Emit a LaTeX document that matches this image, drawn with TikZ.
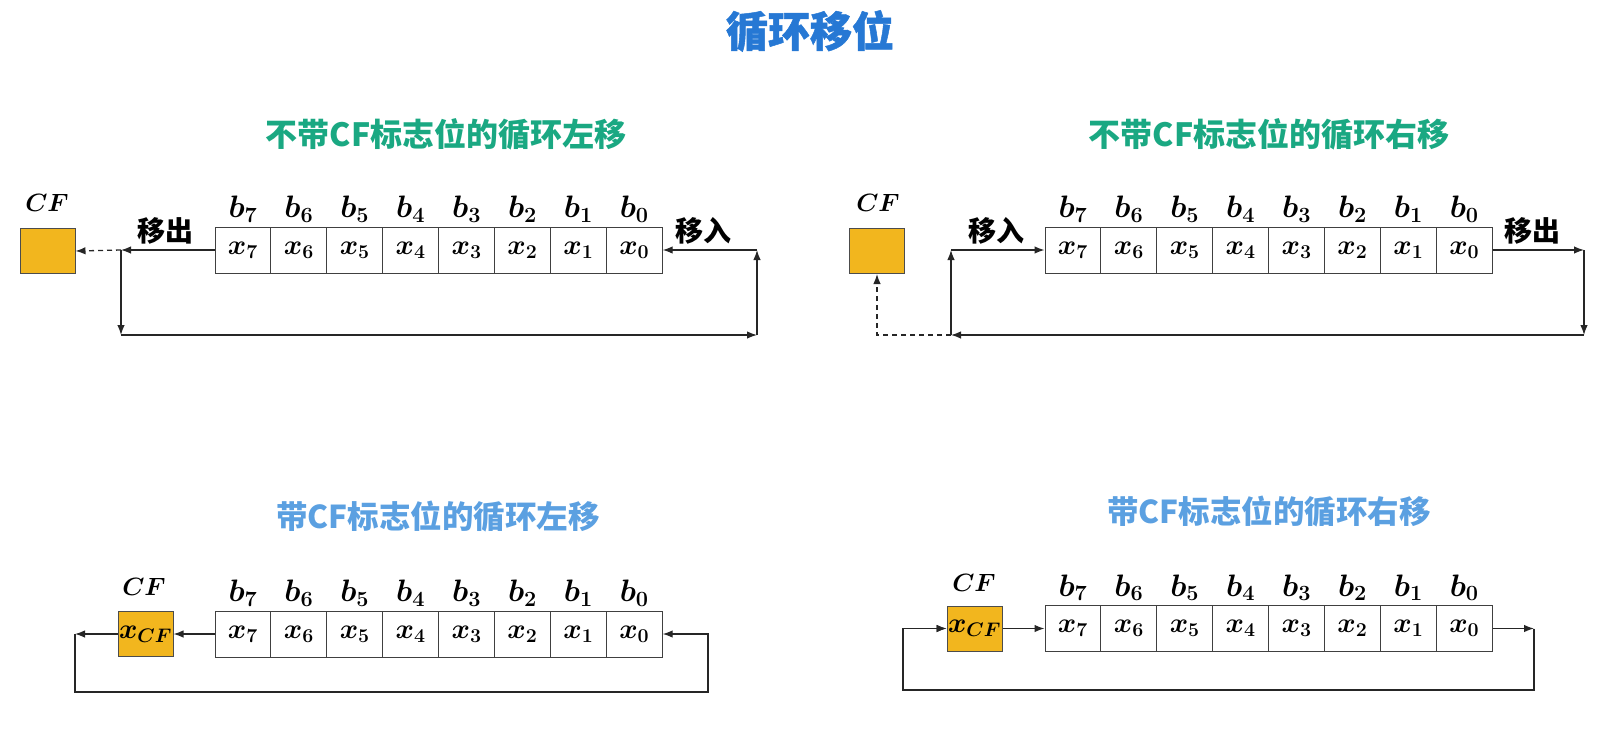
\RequirePackage{fix-cm}
\documentclass[tikz,border=0pt]{standalone}
\usepackage{amsmath}
\usepackage{bm}
\usepackage{fontspec}
\newfontfamily\cjk{Noto Sans CJK SC}
\newfontfamily\cjkheavy{Noto Sans CJK SC}[FakeBold=1.2]
\usepackage{tikz}
\usetikzlibrary{arrows.meta, positioning}
\definecolor{titleblue}{RGB}{38,120,212}
\definecolor{subgreen}{RGB}{26,168,130}
\definecolor{subblue}{RGB}{91,160,225}
\definecolor{cfgold}{RGB}{242,182,30}
\tikzset{
  reg cell/.style={
    rectangle, draw=black!75, fill=white, line width=1pt,
    minimum width=55.9pt, minimum height=46pt, inner sep=0pt,
    font=\fontsize{28}{28}\selectfont
  },
  cf box/.style={
    rectangle, draw=black!70, fill=cfgold, line width=1pt,
    minimum width=55pt, minimum height=45pt, inner sep=0pt,
    font=\fontsize{28}{28}\selectfont
  },
  bit label/.style={
    font=\fontsize{31}{31}\selectfont, inner sep=0pt
  },
  cf label/.style={
    font=\fontsize{25}{25}\selectfont, inner sep=0pt
  },
  io label/.style={
    font=\cjk\bfseries\fontsize{28}{28}\selectfont, inner sep=0pt
  },
  sub title/.style={
    font=\cjk\bfseries\fontsize{32}{32}\selectfont, inner sep=0pt
  },
  flow line/.style={
    line width=1.3pt, draw=black!85
  },
  flow arrow/.style={
    flow line, -{Latex[length=10pt,width=7.5pt]}
  },
  dash arrow/.style={
    flow arrow, dash pattern=on 5pt off 4pt
  }
}

\begin{document}
\begin{tikzpicture}[x=1pt, y=1pt]
  \useasboundingbox (0,0) rectangle (1615,-732);

  \node (title) [font=\cjkheavy\bfseries\fontsize{42}{42}\selectfont, text=titleblue]
    at (810,-31) {循环移位};

  % rotate left, no CF
  \node (tltitle) [sub title, text=subgreen] at (446,-134) {不带CF标志位的循环左移};
  \node (tlcf) [cf box] at (47.5,-251) {};
  \node (tlcflab) [cf label] at (47,-203) {$\bm{CF}$};
  \foreach \i [count=\k from 0] in {7,...,0} {
    \node (tl\i) [reg cell] at (242.95+\k*55.9,-250) {$\bm{x_{\i}}$};
    \node (tlb\i) [bit label, above=4pt of tl\i] {$\bm{b_{\i}}$};
  }
  \node (tlout) [io label] at (165,-231) {移出};
  \node (tlin) [io label] at (703,-231) {移入};
  \coordinate (tljoin) at (121,-250);
  \coordinate (tlbotl) at (121,-335);
  \coordinate (tlbotr) at (757,-335);
  \coordinate (tltopr) at (757,-250);
  \draw [flow arrow] (tl7.west) -- (tljoin);
  \draw [dash arrow] (tljoin) -- (tlcf.east);
  \draw [flow arrow] (tljoin) -- (tlbotl);
  \draw [flow arrow] (tlbotl) -- (tlbotr);
  \draw [flow arrow] (tlbotr) -- (tltopr);
  \draw [flow arrow] (tltopr) -- (tl0.east);

  % rotate right, no CF
  \node (trtitle) [sub title, text=subgreen] at (1269,-134) {不带CF标志位的循环右移};
  \node (trcf) [cf box] at (877,-251) {};
  \node (trcflab) [cf label] at (878,-203) {$\bm{CF}$};
  \foreach \i [count=\k from 0] in {7,...,0} {
    \node (tr\i) [reg cell] at (1072.95+\k*55.9,-250) {$\bm{x_{\i}}$};
    \node (trb\i) [bit label, above=4pt of tr\i] {$\bm{b_{\i}}$};
  }
  \node (trin) [io label] at (996,-231) {移入};
  \node (trout) [io label] at (1532,-231) {移出};
  \coordinate (trtopl) at (951,-250);
  \coordinate (trtopr) at (1584,-250);
  \coordinate (trbotr) at (1584,-335);
  \coordinate (trbotl) at (951,-335);
  \coordinate (trdash) at (877,-335);
  \draw [flow arrow] (trtopl) -- (tr7.west);
  \draw [flow arrow] (tr0.east) -- (trtopr);
  \draw [flow arrow] (trtopr) -- (trbotr);
  \draw [flow arrow] (trbotr) -- (trbotl);
  \draw [flow arrow] (trbotl) -- (trtopl);
  \draw [dash arrow] (trbotl) -- (trdash) -- (trcf.south);

  % rotate left through CF
  \node (bltitle) [sub title, text=subblue, font=\cjk\bfseries\fontsize{31.5}{31.5}\selectfont] at (438,-517) {带CF标志位的循环左移};
  \node (blcf) [cf box] at (145.5,-634) {$\bm{x_{CF}}$};
  \node (blcflab) [cf label] at (144,-587) {$\bm{CF}$};
  \foreach \i [count=\k from 0] in {7,...,0} {
    \node (bl\i) [reg cell] at (242.95+\k*55.9,-634) {$\bm{x_{\i}}$};
    \node (blb\i) [bit label, above=4pt of bl\i] {$\bm{b_{\i}}$};
  }
  \coordinate (bltopl) at (75,-634);
  \coordinate (blbotl) at (75,-692);
  \coordinate (blbotr) at (708,-692);
  \coordinate (bltopr) at (708,-634);
  \draw [flow arrow] (bl7.west) -- (blcf.east);
  \draw [flow arrow] (blcf.west) -- (bltopl);
  \draw [flow arrow] (bltopl) -- (blbotl) -- (blbotr) -- (bltopr) -- (bl0.east);

  % rotate right through CF
  \node (brtitle) [sub title, text=subblue, font=\cjk\bfseries\fontsize{31.5}{31.5}\selectfont] at (1269,-512) {带CF标志位的循环右移};
  \node (brcf) [cf box] at (974.5,-628.5) {$\bm{x_{CF}}$};
  \node (brcflab) [cf label] at (974,-583) {$\bm{CF}$};
  \foreach \i [count=\k from 0] in {7,...,0} {
    \node (br\i) [reg cell] at (1072.95+\k*55.9,-628.5) {$\bm{x_{\i}}$};
    \node (brb\i) [bit label, above=4pt of br\i] {$\bm{b_{\i}}$};
  }
  \coordinate (brtopl) at (903,-628.5);
  \coordinate (brbotl) at (903,-690);
  \coordinate (brbotr) at (1534,-690);
  \coordinate (brtopr) at (1534,-628.5);
  \draw [flow arrow] (brtopl) -- (brcf.west);
  \draw [flow arrow] (brcf.east) -- (br7.west);
  \draw [flow arrow] (br0.east) -- (brtopr);
  \draw [flow arrow] (brtopr) -- (brbotr) -- (brbotl) -- (brtopl) -- (brcf.west);
\end{tikzpicture}
\end{document}
